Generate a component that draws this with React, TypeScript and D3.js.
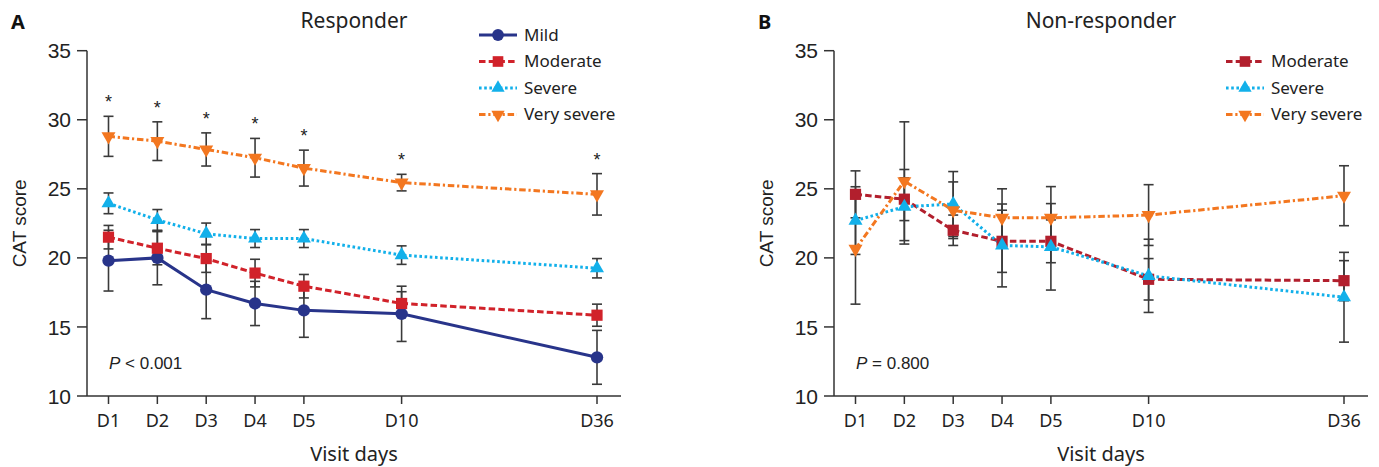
import React from 'react';
import * as d3 from 'd3';

// visit days and where they sit on the (gapped) category axis
const visits = ['D1', 'D2', 'D3', 'D4', 'D5', 'D10', 'D36'];
const visitSlots = [0, 1, 2, 3, 4, 6, 10];
const yTicks = [10, 15, 20, 25, 30, 35];

// Responder
const respMild = [19.8, 20.0, 17.7, 16.7, 16.2, 15.95, 12.8];
const respMildErr = [2.2, 1.95, 2.1, 1.6, 1.95, 2.0, 1.95];
const respModerate = [21.5, 20.7, 19.95, 18.9, 17.95, 16.7, 15.85];
const respModerateErr = [0.85, 1.2, 1.0, 1.0, 0.85, 0.85, 0.8];
const respSevere = [23.95, 22.75, 21.75, 21.4, 21.4, 20.2, 19.25];
const respSevereErr = [0.75, 0.75, 0.77, 0.65, 0.65, 0.67, 0.7];
const respVerySevere = [28.8, 28.45, 27.85, 27.25, 26.5, 25.45, 24.6];
const respVerySevereErr = [1.45, 1.4, 1.2, 1.4, 1.3, 0.6, 1.5];
const respSignificant = [true, true, true, true, true, true, true];

// Non-responder
const nonModerate = [24.6, 24.25, 22.0, 21.2, 21.2, 18.45, 18.35];
const nonModerateErr = [1.7, 1.55, 1.1, 2.25, 1.55, 1.5, 1.45];
const nonSevere = [22.7, 23.7, 23.9, 20.9, 20.8, 18.7, 17.15];
const nonSevereErr = [2.45, 2.7, 2.35, 3.0, 3.13, 2.65, 3.25];
const nonVerySevere = [20.65, 25.55, 23.45, 22.9, 22.9, 23.1, 24.5];
const nonVerySevereErr = [4.0, 4.3, 2.05, 2.1, 2.26, 2.2, 2.17];

// styles per severity group (row = legend row)
const styles = {
  Mild: { row: 0, color: '#28348a', dash: null, marker: 'circle' },
  Moderate: { row: 1, color: '#d1222a', dash: '6.5 3.2', marker: 'square' },
  Severe: { row: 2, color: '#12b0ea', dash: '2.6 2.6', marker: 'up' },
  'Very severe': { row: 3, color: '#f37720', dash: '6.5 2.8 2.2 2.8', marker: 'down' },
};

const panels = [
  {
    letter: 'A', title: 'Responder', left: 87, pText: ['P', ' < 0.001'], stars: respSignificant,
    series: [
      { name: 'Mild', values: respMild, err: respMildErr },
      { name: 'Moderate', values: respModerate, err: respModerateErr },
      { name: 'Severe', values: respSevere, err: respSevereErr },
      { name: 'Very severe', values: respVerySevere, err: respVerySevereErr },
    ],
  },
  {
    letter: 'B', title: 'Non-responder', left: 834, pText: ['P', ' = 0.800'], stars: null,
    moderateColor: '#b21f2d',
    series: [
      { name: 'Moderate', values: nonModerate, err: nonModerateErr },
      { name: 'Severe', values: nonSevere, err: nonSevereErr },
      { name: 'Very severe', values: nonVerySevere, err: nonVerySevereErr },
    ],
  },
];

const AXIS = '#333333';
const TXT = '#222222';
const ERR = '#3a3a3a';
const sansA = '"Liberation Sans", Arial, sans-serif';
const sansN = '"Noto Sans", "Open Sans", sans-serif';

const yTop = 50.7;
const yBottom = 396;

const Marker = ({ type, x, y, color, s = 1 }) => {
  if (type === 'circle') return <circle cx={x} cy={y} r={6.2 * s} fill={color} />;
  if (type === 'square') {
    const h = 5.6 * s;
    return <rect x={x - h} y={y - h} width={2 * h} height={2 * h} fill={color} />;
  }
  const path = d3.symbol().type(d3.symbolTriangle).size(85 * s * s)();
  return (
    <path d={path} fill={color}
      transform={`translate(${x},${y})${type === 'down' ? ' rotate(180)' : ''}`} />
  );
};

const Panel = ({ p }) => {
  const L = p.left;
  const x = d3.scaleLinear().domain([0, 10]).range([L + 21.5, L + 510]);
  const y = d3.scaleLinear().domain([10, 35]).range([yBottom, yTop]);
  const line = d3.line<number>()
    .x((_, i) => x(visitSlots[i]))
    .y(d => y(d));
  const colorOf = (name) => (name === 'Moderate' && p.moderateColor) ? p.moderateColor : styles[name].color;

  return (
    <g>
      <text x={L - 76} y={29} fontFamily={sansN} fontWeight="700" fontSize={20} fill="#111">{p.letter}</text>
      <text x={L + 267} y={28} textAnchor="middle" fontFamily={sansN} fontSize={21} fill={TXT}>{p.title}</text>

      {/* axes */}
      <line x1={L} x2={L} y1={yTop} y2={yBottom} stroke={AXIS} strokeWidth={1.5} />
      <line x1={L} x2={L + 534} y1={yBottom} y2={yBottom} stroke={AXIS} strokeWidth={1.5} />
      {yTicks.map(t => (
        <g key={t}>
          <line x1={L - 10} x2={L} y1={y(t)} y2={y(t)} stroke={AXIS} strokeWidth={1.5} />
          <text x={L - 16} y={y(t)} dy="0.36em" textAnchor="end" fontFamily={sansA} fontSize={21} fill={TXT}>{t}</text>
        </g>
      ))}
      {visits.map((v, i) => (
        <g key={v}>
          <line x1={x(visitSlots[i])} x2={x(visitSlots[i])} y1={yBottom} y2={yBottom + 8} stroke={AXIS} strokeWidth={1.5} />
          <text x={x(visitSlots[i])} y={427} textAnchor="middle" fontFamily={sansN} fontSize={18} fill={TXT}>{v}</text>
        </g>
      ))}
      <text x={L + 267} y={461} textAnchor="middle" fontFamily={sansN} fontSize={20} fill={TXT}>Visit days</text>
      <text transform={`translate(${L - 61},${y(22.5)}) rotate(-90)`} textAnchor="middle" fontFamily={sansA} fontSize={19} fill={TXT}>CAT score</text>

      {/* error bars */}
      {p.series.map(s => s.values.map((v, i) => {
        const cx = x(visitSlots[i]);
        const t = y(v + s.err[i]);
        const b = y(v - s.err[i]);
        return (
          <g key={s.name + i} stroke={ERR} strokeWidth={1.6}>
            <line x1={cx} x2={cx} y1={t} y2={b} />
            <line x1={cx - 5} x2={cx + 5} y1={t} y2={t} />
            <line x1={cx - 5} x2={cx + 5} y1={b} y2={b} />
          </g>
        );
      }))}

      {/* lines */}
      {p.series.map(s => (
        <path key={s.name} d={line(s.values)} fill="none" stroke={colorOf(s.name)} strokeWidth={3}
          strokeDasharray={styles[s.name].dash || undefined} />
      ))}

      {/* markers */}
      {p.series.map(s => s.values.map((v, i) => (
        <Marker key={s.name + i} type={styles[s.name].marker} x={x(visitSlots[i])} y={y(v)} color={colorOf(s.name)} />
      )))}

      {/* significance */}
      {p.stars && visits.map((v, i) => {
        if (!p.stars[i]) return null;
        const top = d3.max(p.series, s => s.values[i] + s.err[i]);
        return (
          <text key={v} x={x(visitSlots[i])} y={y(top) - 8} textAnchor="middle" fontFamily={sansA} fontSize={18} fill={TXT}>*</text>
        );
      })}

      <text x={L + 22} y={369} fontFamily={sansA} fontSize={17} fill={TXT}>
        <tspan fontStyle="italic">{p.pText[0]}</tspan>{p.pText[1]}
      </text>

      {/* legend */}
      {p.series.map(s => {
        const st = styles[s.name];
        const ly = 35 + st.row * 26.5;
        const lx = L + 392;
        return (
          <g key={s.name}>
            <line x1={lx} x2={lx + 38} y1={ly} y2={ly} stroke={colorOf(s.name)} strokeWidth={3} strokeDasharray={st.dash || undefined} />
            <Marker type={st.marker} x={lx + 19} y={ly} color={colorOf(s.name)} s={0.95} />
            <text x={lx + 45} y={ly} dy="0.35em" fontFamily={sansN} fontSize={17} fill={TXT}>{s.name}</text>
          </g>
        );
      })}
    </g>
  );
}

export default function App() {
  return (
    <svg width={1379} height={467} style={{ position: 'absolute', left: 0, top: 0, background: '#fff' }}>
      {panels.map(p => <Panel key={p.letter} p={p} />)}
    </svg>
  );
}
